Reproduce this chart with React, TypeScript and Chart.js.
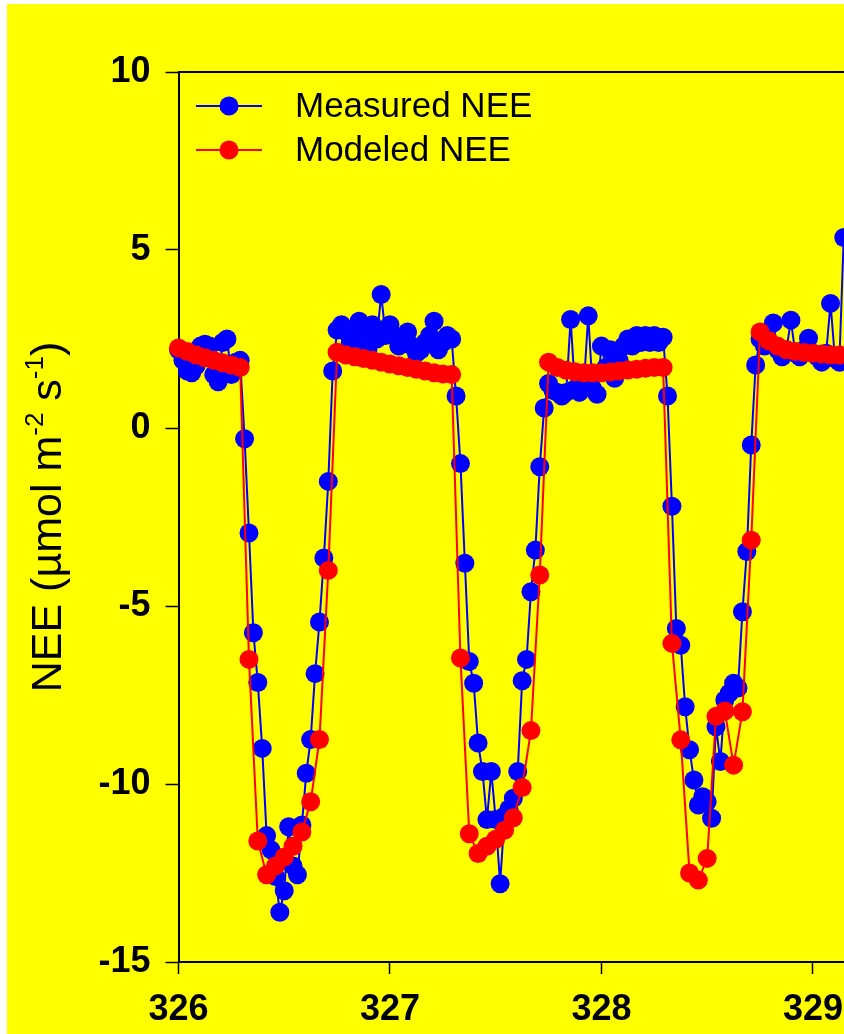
import React, { useEffect, useRef } from "react";
import { Chart, registerables } from "chart.js";

Chart.register(...registerables);

const FONT = "'Liberation Sans', Arial, Helvetica, sans-serif";

// x axis (day of year)
const DAY_TICKS = [326, 327, 328, 329];
const X_MIN = 326;
const X_MAX = 329.147;
// y axis
const Y_TICKS = [-15, -10, -5, 0, 5, 10];
const Y_MIN = -15;
const Y_MAX = 10;

const SERIES_LABELS = ["Measured NEE", "Modeled NEE"];
const SERIES_COLORS = ["#0000FF", "#FF0000"];

// Measured NEE: half-hourly values starting at day 326.0
const MEASURED_START = 326;
const MEASURED_STEP = 1 / 48;
const measuredNEE = [
  2.2, 1.9, 1.6, 1.55, 1.75, 2.3, 2.35, 2.3, 1.5, 1.3, 2.4, 2.5, 1.5, 1.85, 1.9,
  -0.3, -2.95, -5.75, -7.15, -9.0, -11.45, -11.85, -12.6, -13.6, -13.0, -11.2, -12.3, -12.55, -11.15, -9.7, -8.75, -6.9, -5.45, -3.65, -1.5, 1.6, 2.75,
  2.9, 2.7, 2.4, 2.5, 3.0, 2.6, 2.2, 2.9, 2.5, 3.75, 2.6, 2.9, 2.6, 2.3, 2.4, 2.7, 2.3, 2.1, 2.2, 2.4, 2.6, 3.0, 2.2, 2.4, 2.6, 2.5,
  0.9, -1.0, -3.8, -6.56, -7.17, -8.85, -9.65, -11.0, -9.65, -11.0, -12.8, -10.9, -10.7, -10.4, -9.65, -7.1, -6.5, -4.6, -3.43, -1.09, 0.56,
  1.25, 1.05, 1.0, 0.9, 1.0, 3.05, 1.1, 1.0, 1.2, 3.15, 1.1, 0.95, 2.3, 1.7, 2.2, 1.4, 1.9, 2.3, 2.5, 2.3, 2.6, 2.4, 2.6, 2.4, 2.6, 2.4, 2.55,
  0.9, -2.2, -5.63, -6.1, -7.83, -9.04, -9.89, -10.59, -10.36, -10.5, -10.96, -8.39, -9.37, -7.64, -7.45, -7.17, -7.3, -5.16, -3.47, -0.48,
  1.77, 2.5, 2.3, 2.4, 2.95, 2.2, 2.0, 2.2, 3.03, 2.1, 2.0, 2.2, 2.52, 2.1, 2.0, 1.85, 2.1, 3.5, 1.95, 1.85, 5.35,
];

// Modeled NEE: hourly values starting at day 326.0
const MODELED_START = 326;
const MODELED_STEP = 1 / 24;
const modeledNEE = [
  2.25, 2.15, 2.05, 1.97, 1.9, 1.83, 1.77, 1.7,
  -6.5, -11.6, -12.55, -12.3, -12.05, -11.75, -11.35, -10.5, -8.75, -4.0,
  2.13, 2.05, 2.0, 1.95, 1.9, 1.85, 1.8, 1.75, 1.7, 1.65, 1.6, 1.55, 1.52, 1.5,
  -6.46, -11.4, -11.95, -11.75, -11.55, -11.3, -10.95, -10.1, -8.5, -4.13,
  1.85, 1.7, 1.62, 1.58, 1.55, 1.55, 1.55, 1.57, 1.6, 1.63, 1.65, 1.68, 1.7, 1.7,
  -6.05, -8.76, -12.5, -12.7, -12.09, -8.1, -7.95, -9.47, -7.97, -3.15,
  2.7, 2.45, 2.3, 2.2, 2.15, 2.12, 2.1, 2.08, 2.06, 2.05,
];

const CANVAS_W = 837;
const CANVAS_H = 1030;

const decorPlugin = {
  id: "decor",
  beforeDraw(chart: any) {
    const ctx = chart.ctx;
    ctx.save();
    ctx.fillStyle = "#FFFF00";
    ctx.fillRect(0, 0, chart.width, chart.height);
    ctx.restore();
  },
  afterDraw(chart: any) {
    const ctx = chart.ctx;
    const area = chart.chartArea;
    ctx.save();
    // top frame line
    ctx.strokeStyle = "#000";
    ctx.lineWidth = 2;
    ctx.beginPath();
    ctx.moveTo(area.left, area.top);
    ctx.lineTo(chart.width, area.top);
    ctx.stroke();

    // legend
    const legendY = [102, 146];
    for (let s = 0; s < 2; s++) {
      const y = legendY[s];
      ctx.strokeStyle = SERIES_COLORS[s];
      ctx.lineWidth = 2;
      ctx.beginPath();
      ctx.moveTo(189, y);
      ctx.lineTo(255, y);
      ctx.stroke();
      ctx.fillStyle = SERIES_COLORS[s];
      ctx.beginPath();
      ctx.arc(222, y, 9.5, 0, Math.PI * 2);
      ctx.fill();
      ctx.fillStyle = "#000";
      ctx.font = `35px ${FONT}`;
      ctx.textBaseline = "middle";
      ctx.textAlign = "left";
      ctx.fillText(SERIES_LABELS[s], 288, y + 1);
    }

    // y axis title with superscripts
    const size = 43;
    const sup = 26;
    const parts: [string, boolean][] = [
      ["NEE (\u00B5mol m", false],
      ["-2", true],
      [" s", false],
      ["-1", true],
      [")", false],
    ];
    let total = 0;
    const widths: number[] = [];
    for (const [t, s] of parts) {
      ctx.font = `${s ? sup : size}px ${FONT}`;
      const w = ctx.measureText(t).width;
      widths.push(w);
      total += w;
    }
    const cx = 39;
    const cy = (area.top + area.bottom) / 2;
    ctx.translate(cx, cy);
    ctx.rotate(-Math.PI / 2);
    ctx.fillStyle = "#000";
    ctx.textAlign = "left";
    ctx.textBaseline = "alphabetic";
    let x = -total / 2;
    const base = (size * 0.716) / 2;
    parts.forEach(([t, s], i) => {
      ctx.font = `${s ? sup : size}px ${FONT}`;
      ctx.fillText(t, x, s ? base - size * 0.42 : base);
      x += widths[i];
    });
    ctx.restore();
  },
};

export default function App() {
  const ref = useRef<HTMLCanvasElement | null>(null);

  useEffect(() => {
    if (!ref.current) return;
    const measuredData = measuredNEE.map((v, i) => ({ x: MEASURED_START + i * MEASURED_STEP, y: v }));
    const modeledData = modeledNEE.map((v, k) => ({ x: MODELED_START + k * MODELED_STEP, y: v }));
    const tickFont = { family: FONT, size: 36, weight: "bold" as const };
    const chart = new Chart(ref.current, {
      type: "line",
      data: {
        datasets: [
          {
            label: SERIES_LABELS[1],
            data: modeledData,
            borderColor: SERIES_COLORS[1],
            backgroundColor: SERIES_COLORS[1],
            pointBackgroundColor: SERIES_COLORS[1],
            pointBorderColor: SERIES_COLORS[1],
            pointRadius: 9.5,
            pointBorderWidth: 0,
            borderWidth: 2,
            tension: 0,
            clip: false as any,
            order: 0,
          },
          {
            label: SERIES_LABELS[0],
            data: measuredData,
            borderColor: SERIES_COLORS[0],
            backgroundColor: SERIES_COLORS[0],
            pointBackgroundColor: SERIES_COLORS[0],
            pointBorderColor: SERIES_COLORS[0],
            pointRadius: 9.5,
            pointBorderWidth: 0,
            borderWidth: 2,
            tension: 0,
            clip: false as any,
            order: 1,
          },
        ],
      },
      options: {
        responsive: false,
        animation: false,
        events: [],
        layout: { padding: { left: 0, right: 0, top: 68, bottom: 0 }, autoPadding: false } as any,
        plugins: { legend: { display: false }, tooltip: { enabled: false } },
        scales: {
          x: {
            type: "linear",
            min: X_MIN,
            max: X_MAX,
            afterBuildTicks: (s: any) => {
              s.ticks = DAY_TICKS.map((v) => ({ value: v }));
            },
            afterFit: (s: any) => {
              s.height = 72;
              s.paddingLeft = 0;
              s.paddingRight = 0;
            },
            grid: { drawOnChartArea: false, drawTicks: true, tickLength: 12, tickWidth: 1.5, tickColor: "#000" },
            border: { display: true, color: "#000", width: 2 },
            ticks: {
              color: "#000",
              font: tickFont,
              padding: 14,
              maxRotation: 0,
              autoSkip: false,
              callback: (v: any) => String(v),
            },
          },
          y: {
            type: "linear",
            min: Y_MIN,
            max: Y_MAX,
            afterBuildTicks: (s: any) => {
              s.ticks = Y_TICKS.map((v) => ({ value: v }));
            },
            afterFit: (s: any) => {
              s.width = 171.5;
              s.paddingTop = 0;
              s.paddingBottom = 0;
            },
            grid: { drawOnChartArea: false, drawTicks: true, tickLength: 13, tickWidth: 1.5, tickColor: "#000" },
            border: { display: true, color: "#000", width: 2 },
            ticks: {
              color: "#000",
              font: tickFont,
              padding: 15,
              autoSkip: false,
              callback: (v: any) => String(v),
            },
          },
        },
      },
      plugins: [decorPlugin],
    });
    return () => chart.destroy();
  }, []);

  return (
    <div style={{ position: "absolute", left: 7, top: 4, width: CANVAS_W, height: CANVAS_H }}>
      <canvas ref={ref} width={CANVAS_W} height={CANVAS_H} style={{ display: "block", width: CANVAS_W, height: CANVAS_H }} />
    </div>
  );
}
